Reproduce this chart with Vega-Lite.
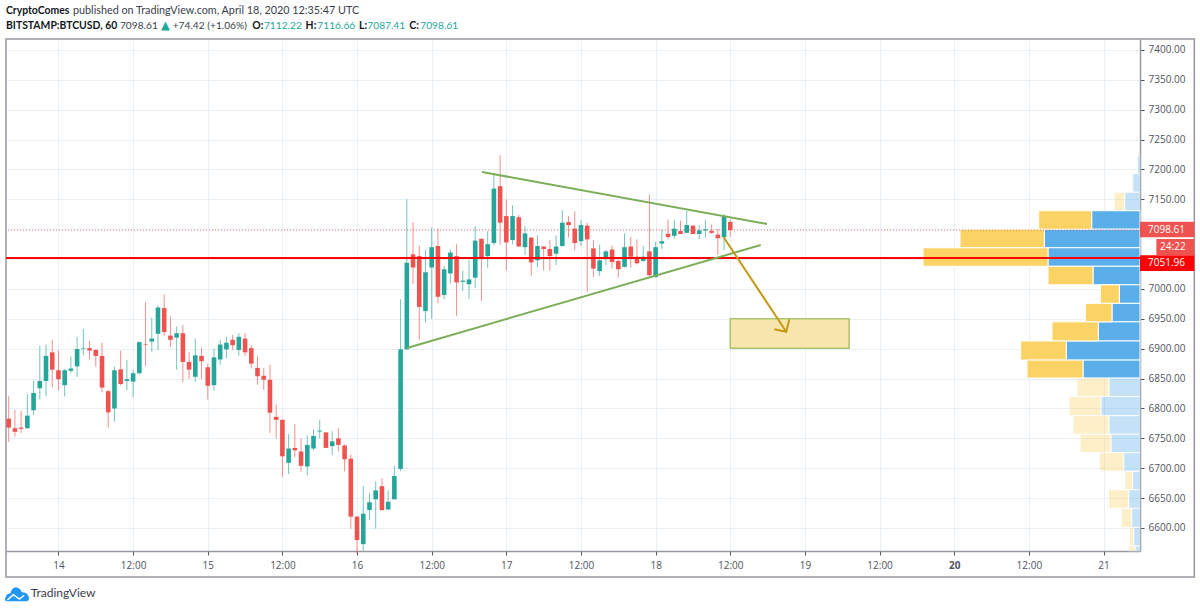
{
  "$schema": "https://vega.github.io/schema/vega-lite/v6.json",
  "description": "BTCUSD hourly candles with volume profile",
  "width": 1134,
  "height": 512,
  "autosize": {"type": "none"},
  "padding": {"left": 6, "top": 39, "right": 60, "bottom": 59},
  "background": "#ffffff",
  "config": {
    "view": {"stroke": null},
    "axis": {
      "title": null,
      "labelFont": "Open Sans",
      "labelFontSize": 10,
      "labelColor": "#50535e",
      "labelOverlap": false,
      "labelSeparation": 0,
      "domainColor": "#9598a1",
      "domainWidth": 1.5,
      "tickColor": "#50535e",
      "tickSize": 4,
      "gridColor": "#e9f0f5",
      "gridWidth": 1
    }
  },
  "datasets": {
    "candles": [
      {"t":"2020-04-13T16:00:00Z","o":6783,"h":6821,"l":6744,"c":6768},
      {"t":"2020-04-13T17:00:00Z","o":6767,"h":6798,"l":6753,"c":6761},
      {"t":"2020-04-13T18:00:00Z","o":6768,"h":6796,"l":6759,"c":6766},
      {"t":"2020-04-13T19:00:00Z","o":6767,"h":6824,"l":6766,"c":6788},
      {"t":"2020-04-13T20:00:00Z","o":6797,"h":6846,"l":6789,"c":6826},
      {"t":"2020-04-13T21:00:00Z","o":6834,"h":6905,"l":6815,"c":6846},
      {"t":"2020-04-13T22:00:00Z","o":6846,"h":6907,"l":6821,"c":6888},
      {"t":"2020-04-13T23:00:00Z","o":6894,"h":6915,"l":6835,"c":6865},
      {"t":"2020-04-14T00:00:00Z","o":6864,"h":6897,"l":6831,"c":6849},
      {"t":"2020-04-14T01:00:00Z","o":6839,"h":6866,"l":6820,"c":6864},
      {"t":"2020-04-14T02:00:00Z","o":6863,"h":6887,"l":6859,"c":6867},
      {"t":"2020-04-14T03:00:00Z","o":6870.5,"h":6920,"l":6853,"c":6899.5},
      {"t":"2020-04-14T04:00:00Z","o":6900,"h":6933,"l":6889,"c":6901},
      {"t":"2020-04-14T05:00:00Z","o":6901,"h":6913,"l":6882,"c":6897},
      {"t":"2020-04-14T06:00:00Z","o":6898,"h":6899,"l":6870,"c":6888},
      {"t":"2020-04-14T07:00:00Z","o":6888,"h":6910,"l":6827,"c":6835},
      {"t":"2020-04-14T08:00:00Z","o":6829,"h":6831,"l":6768,"c":6793.5},
      {"t":"2020-04-14T09:00:00Z","o":6800,"h":6870,"l":6778,"c":6864},
      {"t":"2020-04-14T10:00:00Z","o":6865.5,"h":6897,"l":6839,"c":6841},
      {"t":"2020-04-14T11:00:00Z","o":6846,"h":6881,"l":6831,"c":6849},
      {"t":"2020-04-14T12:00:00Z","o":6845,"h":6864,"l":6819,"c":6859},
      {"t":"2020-04-14T13:00:00Z","o":6859,"h":6912,"l":6857,"c":6911},
      {"t":"2020-04-14T14:00:00Z","o":6908,"h":6978,"l":6871,"c":6907},
      {"t":"2020-04-14T15:00:00Z","o":6912,"h":6952,"l":6895,"c":6917},
      {"t":"2020-04-14T16:00:00Z","o":6925,"h":6973,"l":6898,"c":6969},
      {"t":"2020-04-14T17:00:00Z","o":6968,"h":6991,"l":6922,"c":6928},
      {"t":"2020-04-14T18:00:00Z","o":6922,"h":6954,"l":6903,"c":6915},
      {"t":"2020-04-14T19:00:00Z","o":6918.5,"h":6937,"l":6865,"c":6926},
      {"t":"2020-04-14T20:00:00Z","o":6926,"h":6940,"l":6844,"c":6878},
      {"t":"2020-04-14T21:00:00Z","o":6878,"h":6894,"l":6849,"c":6865},
      {"t":"2020-04-14T22:00:00Z","o":6853,"h":6917,"l":6845,"c":6889},
      {"t":"2020-04-14T23:00:00Z","o":6888,"h":6902,"l":6849,"c":6879},
      {"t":"2020-04-15T00:00:00Z","o":6869,"h":6875,"l":6815,"c":6838},
      {"t":"2020-04-15T01:00:00Z","o":6839,"h":6900,"l":6830,"c":6885.6},
      {"t":"2020-04-15T02:00:00Z","o":6882,"h":6915,"l":6873,"c":6907},
      {"t":"2020-04-15T03:00:00Z","o":6899,"h":6920,"l":6884,"c":6910},
      {"t":"2020-04-15T04:00:00Z","o":6915,"h":6923,"l":6898,"c":6906},
      {"t":"2020-04-15T05:00:00Z","o":6898,"h":6926,"l":6888,"c":6920},
      {"t":"2020-04-15T06:00:00Z","o":6917,"h":6926,"l":6888,"c":6894},
      {"t":"2020-04-15T07:00:00Z","o":6901,"h":6906,"l":6867,"c":6875},
      {"t":"2020-04-15T08:00:00Z","o":6868,"h":6888,"l":6840,"c":6854},
      {"t":"2020-04-15T09:00:00Z","o":6855,"h":6868,"l":6831,"c":6848},
      {"t":"2020-04-15T10:00:00Z","o":6848,"h":6873,"l":6759,"c":6793},
      {"t":"2020-04-15T11:00:00Z","o":6786,"h":6807,"l":6750,"c":6781},
      {"t":"2020-04-15T12:00:00Z","o":6781,"h":6782,"l":6686,"c":6720},
      {"t":"2020-04-15T13:00:00Z","o":6709,"h":6757,"l":6690,"c":6733},
      {"t":"2020-04-15T14:00:00Z","o":6734,"h":6774,"l":6719,"c":6730},
      {"t":"2020-04-15T15:00:00Z","o":6728,"h":6750,"l":6694,"c":6704},
      {"t":"2020-04-15T16:00:00Z","o":6703,"h":6755,"l":6688,"c":6739},
      {"t":"2020-04-15T17:00:00Z","o":6733,"h":6765,"l":6730,"c":6754},
      {"t":"2020-04-15T18:00:00Z","o":6761.5,"h":6781,"l":6750,"c":6763},
      {"t":"2020-04-15T19:00:00Z","o":6760,"h":6760.5,"l":6734,"c":6734},
      {"t":"2020-04-15T20:00:00Z","o":6737,"h":6762,"l":6722,"c":6745},
      {"t":"2020-04-15T21:00:00Z","o":6750,"h":6767,"l":6728,"c":6739},
      {"t":"2020-04-15T22:00:00Z","o":6738,"h":6740,"l":6695,"c":6715},
      {"t":"2020-04-15T23:00:00Z","o":6716,"h":6723,"l":6599,"c":6619},
      {"t":"2020-04-16T00:00:00Z","o":6619,"h":6620,"l":6557,"c":6580},
      {"t":"2020-04-16T01:00:00Z","o":6573,"h":6670,"l":6562,"c":6624},
      {"t":"2020-04-16T02:00:00Z","o":6630,"h":6658,"l":6613,"c":6643},
      {"t":"2020-04-16T03:00:00Z","o":6648,"h":6678,"l":6599,"c":6663},
      {"t":"2020-04-16T04:00:00Z","o":6670,"h":6683,"l":6629,"c":6630},
      {"t":"2020-04-16T05:00:00Z","o":6631,"h":6663,"l":6630,"c":6644},
      {"t":"2020-04-16T06:00:00Z","o":6648,"h":6704,"l":6648,"c":6687},
      {"t":"2020-04-16T07:00:00Z","o":6699,"h":6983,"l":6695,"c":6899},
      {"t":"2020-04-16T08:00:00Z","o":6899,"h":7150,"l":6898,"c":7044},
      {"t":"2020-04-16T09:00:00Z","o":7058,"h":7112,"l":7008,"c":7036},
      {"t":"2020-04-16T10:00:00Z","o":7055,"h":7073,"l":6915,"c":6970},
      {"t":"2020-04-16T11:00:00Z","o":6963,"h":7066,"l":6944,"c":7028},
      {"t":"2020-04-16T12:00:00Z","o":7036,"h":7103,"l":6950,"c":7070},
      {"t":"2020-04-16T13:00:00Z","o":7072,"h":7101,"l":6976,"c":6987},
      {"t":"2020-04-16T14:00:00Z","o":6990,"h":7039,"l":6983,"c":7033},
      {"t":"2020-04-16T15:00:00Z","o":7026,"h":7066,"l":7009,"c":7061},
      {"t":"2020-04-16T16:00:00Z","o":7055,"h":7075,"l":6955,"c":7011},
      {"t":"2020-04-16T17:00:00Z","o":7012,"h":7031,"l":6997,"c":7014},
      {"t":"2020-04-16T18:00:00Z","o":7008,"h":7048,"l":6983,"c":7016},
      {"t":"2020-04-16T19:00:00Z","o":7019,"h":7105,"l":7002,"c":7081},
      {"t":"2020-04-16T20:00:00Z","o":7084,"h":7084,"l":6980,"c":7053},
      {"t":"2020-04-16T21:00:00Z","o":7055,"h":7097,"l":7035,"c":7075},
      {"t":"2020-04-16T22:00:00Z","o":7077,"h":7192,"l":7073,"c":7168},
      {"t":"2020-04-16T23:00:00Z","o":7172,"h":7224,"l":7074,"c":7111},
      {"t":"2020-04-17T00:00:00Z","o":7122,"h":7150,"l":7031,"c":7078},
      {"t":"2020-04-17T01:00:00Z","o":7082,"h":7140,"l":7075,"c":7122},
      {"t":"2020-04-17T02:00:00Z","o":7120,"h":7124,"l":7070,"c":7071},
      {"t":"2020-04-17T03:00:00Z","o":7070,"h":7105,"l":7057,"c":7093},
      {"t":"2020-04-17T04:00:00Z","o":7086,"h":7087,"l":7022,"c":7044.5},
      {"t":"2020-04-17T05:00:00Z","o":7048,"h":7090,"l":7036,"c":7072},
      {"t":"2020-04-17T06:00:00Z","o":7071,"h":7072,"l":7031,"c":7067},
      {"t":"2020-04-17T07:00:00Z","o":7067,"h":7082,"l":7031,"c":7055},
      {"t":"2020-04-17T08:00:00Z","o":7059,"h":7090,"l":7040,"c":7071},
      {"t":"2020-04-17T09:00:00Z","o":7072,"h":7132,"l":7071,"c":7111},
      {"t":"2020-04-17T10:00:00Z","o":7112,"h":7122,"l":7086,"c":7107},
      {"t":"2020-04-17T11:00:00Z","o":7101,"h":7130,"l":7065,"c":7077},
      {"t":"2020-04-17T12:00:00Z","o":7080,"h":7115,"l":7072,"c":7107},
      {"t":"2020-04-17T13:00:00Z","o":7106,"h":7111,"l":6995,"c":7083},
      {"t":"2020-04-17T14:00:00Z","o":7068,"h":7082,"l":7020,"c":7034},
      {"t":"2020-04-17T15:00:00Z","o":7030,"h":7074,"l":7022,"c":7048},
      {"t":"2020-04-17T16:00:00Z","o":7051,"h":7065,"l":7040,"c":7063},
      {"t":"2020-04-17T17:00:00Z","o":7066,"h":7073,"l":7034,"c":7045},
      {"t":"2020-04-17T18:00:00Z","o":7047,"h":7049,"l":7019,"c":7033},
      {"t":"2020-04-17T19:00:00Z","o":7037,"h":7093,"l":7036,"c":7070},
      {"t":"2020-04-17T20:00:00Z","o":7071,"h":7087,"l":7036,"c":7054},
      {"t":"2020-04-17T21:00:00Z","o":7054,"h":7083,"l":7041,"c":7043},
      {"t":"2020-04-17T22:00:00Z","o":7047,"h":7072,"l":7046,"c":7054},
      {"t":"2020-04-17T23:00:00Z","o":7063,"h":7158,"l":7022,"c":7023},
      {"t":"2020-04-18T00:00:00Z","o":7020,"h":7079,"l":7019,"c":7070},
      {"t":"2020-04-18T01:00:00Z","o":7076,"h":7099,"l":7067,"c":7080},
      {"t":"2020-04-18T02:00:00Z","o":7092.5,"h":7116,"l":7083,"c":7087},
      {"t":"2020-04-18T03:00:00Z","o":7089,"h":7116,"l":7084,"c":7101},
      {"t":"2020-04-18T04:00:00Z","o":7097,"h":7114,"l":7092,"c":7092},
      {"t":"2020-04-18T05:00:00Z","o":7094,"h":7131,"l":7094,"c":7107},
      {"t":"2020-04-18T06:00:00Z","o":7106,"h":7107,"l":7092,"c":7092},
      {"t":"2020-04-18T07:00:00Z","o":7092,"h":7107,"l":7083,"c":7098},
      {"t":"2020-04-18T08:00:00Z","o":7098,"h":7116,"l":7086,"c":7100},
      {"t":"2020-04-18T09:00:00Z","o":7097,"h":7108,"l":7092,"c":7094},
      {"t":"2020-04-18T10:00:00Z","o":7091,"h":7100,"l":7057,"c":7085},
      {"t":"2020-04-18T11:00:00Z","o":7087,"h":7125,"l":7065,"c":7121},
      {"t":"2020-04-18T12:00:00Z","o":7112.22,"h":7116.66,"l":7087.41,"c":7098.61}
    ],
    "profile": [
      {"lo":7193,"hi":7224,"buy":2.7,"total":2.7,"area":0},
      {"lo":7162,"hi":7193,"buy":7.3,"total":8.3,"area":0},
      {"lo":7131,"hi":7162,"buy":15.3,"total":26,"area":0},
      {"lo":7100,"hi":7131,"buy":48.3,"total":101.3,"area":1},
      {"lo":7069,"hi":7100,"buy":95.7,"total":180,"area":1},
      {"lo":7038,"hi":7069,"buy":92,"total":217,"area":1},
      {"lo":7007,"hi":7038,"buy":47,"total":92,"area":1},
      {"lo":6976,"hi":7007,"buy":20.7,"total":39.7,"area":1},
      {"lo":6945,"hi":6976,"buy":28,"total":54.7,"area":1},
      {"lo":6913,"hi":6945,"buy":41.7,"total":88,"area":1},
      {"lo":6881,"hi":6913,"buy":73.7,"total":119.3,"area":1},
      {"lo":6851,"hi":6881,"buy":57,"total":113,"area":1},
      {"lo":6820,"hi":6851,"buy":31,"total":63,"area":0},
      {"lo":6788,"hi":6820,"buy":39,"total":71,"area":0},
      {"lo":6757,"hi":6788,"buy":31,"total":67,"area":0},
      {"lo":6726,"hi":6757,"buy":29,"total":60,"area":0},
      {"lo":6695,"hi":6726,"buy":16.3,"total":40.7,"area":0},
      {"lo":6664,"hi":6695,"buy":7.3,"total":15.3,"area":0},
      {"lo":6633,"hi":6664,"buy":11.3,"total":31.7,"area":0},
      {"lo":6601,"hi":6633,"buy":8.3,"total":18.7,"area":0},
      {"lo":6570,"hi":6601,"buy":6.3,"total":10.7,"area":0},
      {"lo":6561.5,"hi":6570,"buy":5,"total":12,"area":0}
    ]
  },
  "layer": [
    {
      "data": {"name": "profile"},
      "layer": [
        {
          "mark": {"type": "rect", "stroke": "#ffffff", "strokeWidth": 1, "color": "#5aaeea"},
          "encoding": {
            "x": {"field": "buy", "type": "quantitative", "axis": null, "scale": {"domain": [0, 1134], "reverse": true}},
            "x2": {"datum": 0},
            "y": {"field": "lo", "type": "quantitative", "scale": {"domain": [6561.5, 7418.4]}},
            "y2": {"field": "hi"},
            "opacity": {"condition": {"test": "datum.area == 1", "value": 1}, "value": 0.35}
          }
        },
        {
          "mark": {"type": "rect", "stroke": "#ffffff", "strokeWidth": 1, "color": "#fbd365"},
          "encoding": {
            "x": {"field": "total", "type": "quantitative", "axis": null, "scale": {"domain": [0, 1134], "reverse": true}},
            "x2": {"field": "buy"},
            "y": {"field": "lo", "type": "quantitative", "scale": {"domain": [6561.5, 7418.4]}},
            "y2": {"field": "hi"},
            "opacity": {"condition": {"test": "datum.area == 1", "value": 1}, "value": 0.35}
          }
        }
      ]
    },
    {
      "layer": [
        {
          "data": {"values": [{"t": "2020-04-13T15:34:00Z", "t2": "2020-04-21T14:36:00Z", "p": 6518, "p2": 7418.4}]},
          "mark": {"type": "rect", "fill": null, "fillOpacity": 0, "stroke": "#9598a1", "strokeWidth": 1.5},
          "encoding": {
            "x": {
              "field": "t", "type": "temporal",
              "scale": {"type": "utc", "domain": [1586792040000, 1587448320000], "padding": 0},
              "axis": {
                "grid": true,
                "orient": "bottom",
                "values": [1586822400000, 1586865600000, 1586908800000, 1586952000000, 1586995200000, 1587038400000, 1587081600000, 1587124800000, 1587168000000, 1587211200000, 1587254400000, 1587297600000, 1587340800000, 1587384000000, 1587427200000],
                "labelExpr": "utchours(datum.value) == 12 ? '12:00' : utcFormat(datum.value, '%-d')",
                "labelFontWeight": {"condition": {"test": "utcdate(datum.value) == 20 && utchours(datum.value) == 0", "value": "bold"}, "value": "normal"},
                "labelPadding": 5,
                "labelFlush": false,
                "labelOverlap": false
              }
            },
            "x2": {"field": "t2"},
            "y": {
              "field": "p", "type": "quantitative",
              "scale": {"domain": [6561.5, 7418.4]},
              "axis": {
                "grid": true,
                "orient": "right",
                "values": [6600, 6650, 6700, 6750, 6800, 6850, 6900, 6950, 7000, 7050, 7100, 7150, 7200, 7250, 7300, 7350, 7400],
                "tickCount": 17,
                "labelExpr": "datum.value == 7050 || datum.value == 7100 ? '' : format(datum.value, '.2f')",
                "labelPadding": 4,
                "labelFlush": false,
                "labelOverlap": false
              }
            },
            "y2": {"field": "p2"}
          }
        },
        {
          "data": {"values": [{"p": 7098.61}]},
          "mark": {"type": "rule", "color": "#ef5350", "strokeWidth": 1, "strokeDash": [1, 2], "opacity": 0.8},
          "encoding": {
            "y": {"field": "p", "type": "quantitative", "scale": {"domain": [6561.5, 7418.4]}}
          }
        },
        {
          "data": {"name": "candles"},
          "mark": {"type": "rule", "strokeWidth": 1, "opacity": 0.65},
          "encoding": {
            "x": {"field": "t", "type": "temporal", "scale": {"type": "utc", "domain": [1586792040000, 1587448320000], "padding": 0}},
            "y": {"field": "l", "type": "quantitative", "scale": {"domain": [6561.5, 7418.4]}},
            "y2": {"field": "h"},
            "color": {"condition": {"test": "datum.c < datum.o", "value": "#ef5350"}, "value": "#26a69a"}
          }
        },
        {
          "data": {"name": "candles"},
          "mark": {"type": "bar", "size": 4.6},
          "encoding": {
            "x": {"field": "t", "type": "temporal", "scale": {"type": "utc", "domain": [1586792040000, 1587448320000], "padding": 0}},
            "y": {"field": "o", "type": "quantitative", "scale": {"domain": [6561.5, 7418.4]}},
            "y2": {"field": "c"},
            "color": {"condition": {"test": "datum.c < datum.o", "value": "#ef5350"}, "value": "#26a69a"}
          }
        },
        {
          "data": {"values": [{"p": 7051.96}]},
          "mark": {"type": "rule", "color": "#ff0000", "strokeWidth": 2},
          "encoding": {
            "y": {"field": "p", "type": "quantitative", "scale": {"domain": [6561.5, 7418.4]}}
          }
        },
        {
          "data": {"values": [{"t": "2020-04-18T12:00:00Z", "t2": "2020-04-19T07:06:00Z", "p": 6900.8, "p2": 6950.3}]},
          "mark": {"type": "rect", "fill": "#f8e6ae", "stroke": "#a9c46c", "strokeWidth": 1.5},
          "encoding": {
            "x": {"field": "t", "type": "temporal", "scale": {"type": "utc", "domain": [1586792040000, 1587448320000], "padding": 0}},
            "x2": {"field": "t2"},
            "y": {"field": "p", "type": "quantitative", "scale": {"domain": [6561.5, 7418.4]}},
            "y2": {"field": "p2"}
          }
        },
        {
          "data": {"values": [
            {"id": "upper", "kind": "trend", "t": "2020-04-16T20:05:00Z", "p": 7195.8},
            {"id": "upper", "kind": "trend", "t": "2020-04-18T17:54:00Z", "p": 7108.8},
            {"id": "lower", "kind": "trend", "t": "2020-04-16T08:02:00Z", "p": 6901.3},
            {"id": "lower", "kind": "trend", "t": "2020-04-18T16:54:00Z", "p": 7073.6},
            {"id": "arrow", "kind": "arrow", "t": "2020-04-18T10:53:00Z", "p": 7087.5},
            {"id": "arrow", "kind": "arrow", "t": "2020-04-18T21:00:00Z", "p": 6928.5},
            {"id": "head", "kind": "arrow", "t": "2020-04-18T19:05:00Z", "p": 6932.6},
            {"id": "head", "kind": "arrow", "t": "2020-04-18T21:00:00Z", "p": 6928.5},
            {"id": "head", "kind": "arrow", "t": "2020-04-18T21:30:00Z", "p": 6949.3}
          ]},
          "mark": {"type": "line", "strokeWidth": 2},
          "encoding": {
            "x": {"field": "t", "type": "temporal", "scale": {"type": "utc", "domain": [1586792040000, 1587448320000], "padding": 0}},
            "y": {"field": "p", "type": "quantitative", "scale": {"domain": [6561.5, 7418.4]}},
            "detail": {"field": "id"},
            "order": {"field": "t", "type": "temporal"},
            "color": {"condition": {"test": "datum.kind == 'arrow'", "value": "#c49a14"}, "value": "#7cae5a"}
          }
        },
        {
          "data": {"values": [
            {"tag": "last", "t": "2020-04-21T05:52:00Z", "t2": "2020-04-21T14:36:00Z", "p": 7086.5, "p2": 7112.6},
            {"tag": "last", "t": "2020-04-21T08:30:00Z", "t2": "2020-04-21T14:36:00Z", "p": 7056.9, "p2": 7083.7},
            {"tag": "line", "t": "2020-04-21T05:52:00Z", "t2": "2020-04-21T14:36:00Z", "p": 7030.1, "p2": 7056.4}
          ]},
          "mark": {"type": "rect"},
          "encoding": {
            "x": {"field": "t", "type": "temporal", "scale": {"type": "utc", "domain": [1586792040000, 1587448320000], "padding": 0}},
            "x2": {"field": "t2"},
            "y": {"field": "p", "type": "quantitative", "scale": {"domain": [6561.5, 7418.4]}},
            "y2": {"field": "p2"},
            "color": {"condition": {"test": "datum.tag == 'line'", "value": "#ff0000"}, "value": "#ef5350"}
          }
        },
        {
          "data": {"values": [
            {"t": "2020-04-21T07:10:00Z", "p": 7098.61, "label": "7098.61"},
            {"t": "2020-04-21T09:06:00Z", "p": 7070.3, "label": "24:22"},
            {"t": "2020-04-21T07:10:00Z", "p": 7043.2, "label": "7051.96"}
          ]},
          "mark": {"type": "text", "align": "left", "baseline": "middle", "font": "Open Sans", "fontSize": 10, "color": "#ffffff"},
          "encoding": {
            "x": {"field": "t", "type": "temporal", "scale": {"type": "utc", "domain": [1586792040000, 1587448320000], "padding": 0}},
            "y": {"field": "p", "type": "quantitative", "scale": {"domain": [6561.5, 7418.4]}},
            "text": {"field": "label"}
          }
        },
        {
          "data": {"values": [
            {"t": "2020-04-13T15:34:00Z", "p": 7465.3, "label": "CryptoComes"},
            {"t": "2020-04-13T15:34:00Z", "p": 7440.2, "label": "BITSTAMP:BTCUSD, 60"},
            {"t": "2020-04-15T07:10:00Z", "p": 7440.2, "label": "O:"},
            {"t": "2020-04-15T15:44:00Z", "p": 7440.2, "label": "H:"},
            {"t": "2020-04-16T00:19:00Z", "p": 7440.2, "label": "L:"},
            {"t": "2020-04-16T08:24:00Z", "p": 7440.2, "label": "C:"}
          ]},
          "mark": {"type": "text", "align": "left", "baseline": "middle", "font": "Lato", "fontSize": 10.4, "fontWeight": "bold", "color": "#131722"},
          "encoding": {
            "x": {"field": "t", "type": "temporal", "scale": {"type": "utc", "domain": [1586792040000, 1587448320000], "padding": 0}},
            "y": {"field": "p", "type": "quantitative", "scale": {"domain": [6561.5, 7418.4]}},
            "text": {"field": "label"}
          }
        },
        {
          "data": {"values": [
            {"t": "2020-04-14T02:20:00Z", "p": 7465.3, "label": "published on TradingView.com, April 18, 2020 12:35:47 UTC"}
          ]},
          "mark": {"type": "text", "align": "left", "baseline": "middle", "font": "Lato", "fontSize": 10.8, "color": "#3a3e4a"},
          "encoding": {
            "x": {"field": "t", "type": "temporal", "scale": {"type": "utc", "domain": [1586792040000, 1587448320000], "padding": 0}},
            "y": {"field": "p", "type": "quantitative", "scale": {"domain": [6561.5, 7418.4]}},
            "text": {"field": "label"}
          }
        },
        {
          "data": {"values": [
            {"t": "2020-04-14T09:53:00Z", "p": 7440.2, "label": "7098.61"},
            {"t": "2020-04-14T18:22:00Z", "p": 7440.2, "label": "+74.42 (+1.06%)"}
          ]},
          "mark": {"type": "text", "align": "left", "baseline": "middle", "font": "Lato", "fontSize": 10.2, "color": "#3a3e4a"},
          "encoding": {
            "x": {"field": "t", "type": "temporal", "scale": {"type": "utc", "domain": [1586792040000, 1587448320000], "padding": 0}},
            "y": {"field": "p", "type": "quantitative", "scale": {"domain": [6561.5, 7418.4]}},
            "text": {"field": "label"}
          }
        },
        {
          "data": {"values": [
            {"t": "2020-04-15T09:02:00Z", "p": 7440.2, "label": "7112.22"},
            {"t": "2020-04-15T17:37:00Z", "p": 7440.2, "label": "7116.66"},
            {"t": "2020-04-16T01:39:00Z", "p": 7440.2, "label": "7087.41"},
            {"t": "2020-04-16T10:10:00Z", "p": 7440.2, "label": "7098.61"}
          ]},
          "mark": {"type": "text", "align": "left", "baseline": "middle", "font": "Lato", "fontSize": 10.2, "color": "#26a69a"},
          "encoding": {
            "x": {"field": "t", "type": "temporal", "scale": {"type": "utc", "domain": [1586792040000, 1587448320000], "padding": 0}},
            "y": {"field": "p", "type": "quantitative", "scale": {"domain": [6561.5, 7418.4]}},
            "text": {"field": "label"}
          }
        },
        {
          "data": {"values": [{"t": "2020-04-14T16:29:00Z", "p": 7440.2, "label": "▲"}]},
          "mark": {"type": "text", "align": "left", "baseline": "middle", "font": "DejaVu Sans", "fontSize": 11.5, "color": "#26a69a"},
          "encoding": {
            "x": {"field": "t", "type": "temporal", "scale": {"type": "utc", "domain": [1586792040000, 1587448320000], "padding": 0}},
            "y": {"field": "p", "type": "quantitative", "scale": {"domain": [6561.5, 7418.4]}},
            "text": {"field": "label"}
          }
        },
        {
          "data": {"values": [{"t": "2020-04-13T17:20:00Z", "p": 6489.5}]},
          "mark": {
            "type": "point", "filled": true, "size": 576, "opacity": 1, "color": "#2196f3",
            "shape": "M-1,0.55 C-1,0.1 -0.75,-0.05 -0.55,-0.05 C-0.45,-0.5 -0.15,-0.65 0.1,-0.5 C0.3,-0.4 0.35,-0.25 0.4,-0.15 C0.7,-0.2 1,0.05 1,0.35 C1,0.5 0.9,0.6 0.8,0.6 L-0.8,0.6 Z"
          },
          "encoding": {
            "x": {"field": "t", "type": "temporal", "scale": {"type": "utc", "domain": [1586792040000, 1587448320000], "padding": 0}},
            "y": {"field": "p", "type": "quantitative", "scale": {"domain": [6561.5, 7418.4]}}
          }
        },
        {
          "data": {"values": [{"t": "2020-04-13T17:20:00Z", "p": 6489.5}]},
          "mark": {
            "type": "point", "filled": false, "size": 576, "opacity": 1, "color": "#ffffff", "strokeWidth": 1.5,
            "shape": "M-0.8,0.5 L-0.3,0.05 L0.2,0.42 L0.6,0.1"
          },
          "encoding": {
            "x": {"field": "t", "type": "temporal", "scale": {"type": "utc", "domain": [1586792040000, 1587448320000], "padding": 0}},
            "y": {"field": "p", "type": "quantitative", "scale": {"domain": [6561.5, 7418.4]}}
          }
        },
        {
          "data": {"values": [{"t": "2020-04-13T19:32:00Z", "p": 6491.2, "label": "TradingView"}]},
          "mark": {"type": "text", "align": "left", "baseline": "middle", "font": "Lato", "fontSize": 12, "color": "#3a3e4a"},
          "encoding": {
            "x": {"field": "t", "type": "temporal", "scale": {"type": "utc", "domain": [1586792040000, 1587448320000], "padding": 0}},
            "y": {"field": "p", "type": "quantitative", "scale": {"domain": [6561.5, 7418.4]}},
            "text": {"field": "label"}
          }
        }
      ]
    }
  ],
  "resolve": {"scale": {"x": "independent"}, "axis": {"x": "independent"}}
}
